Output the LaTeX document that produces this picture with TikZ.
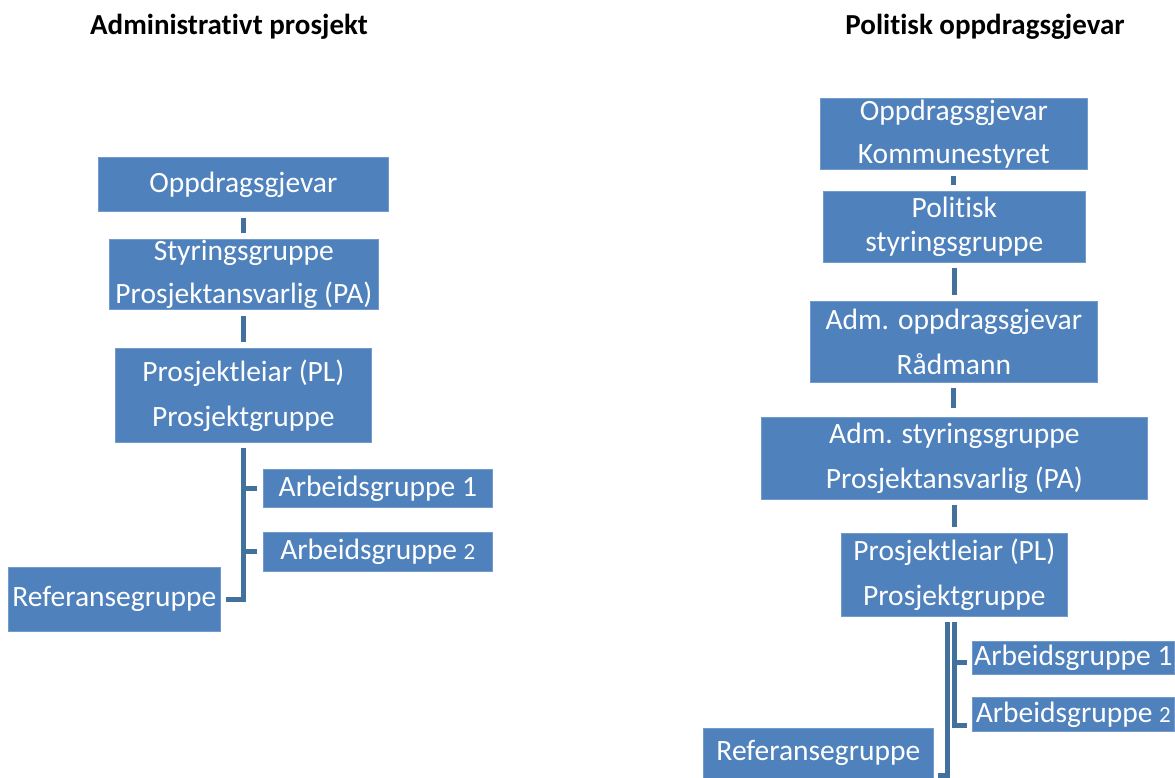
\documentclass[tikz,border=0pt]{standalone}
\usepackage{fontspec}
\setmainfont{Carlito}[Ligatures=NoCommon]
\definecolor{boxblue}{HTML}{4F81BD}
\definecolor{lineblue}{HTML}{41719C}
\begin{document}
\begin{tikzpicture}[x=1pt,y=-1pt,
  box/.style={fill=boxblue, draw=boxblue!80!white, line width=0.7pt, text=white,
    inner sep=0pt, anchor=north west, align=center,
    font=\fontsize{29.5}{43}\selectfont},
  conn/.style={draw=lineblue, line width=5pt},
  ttl/.style={font=\fontsize{29}{32}\selectfont\bfseries, inner sep=0pt}]
\useasboundingbox (0,0) rectangle (1175,778);
\fill[white] (0,0) rectangle (1175,778);

% titles
\node[ttl] (t1) at (229,27) {Administrativt prosjekt};
\node[ttl] (t2) at (985,27) {Politisk oppdragsgjevar};

% left chart
\node[box, minimum width=290pt, minimum height=54pt] (o1) at (98,157) {Oppdragsgjevar};
\node[box, minimum width=269pt, minimum height=70pt] (s1) at (109,239) {Styringsgruppe\\Prosjektansvarlig (PA)};
\node[box, minimum width=256pt, minimum height=94pt] (p1) at (115,348) {Prosjektleiar (PL)\\[2pt]Prosjektgruppe};
\node[box, minimum width=229pt, minimum height=38pt] (ag1) at (263,469) {Arbeidsgruppe 1};
\node[box, minimum width=229pt, minimum height=39pt] (ag2) at (263,532) {Arbeidsgruppe {\fontsize{23}{26}\selectfont 2}};
\node[box, minimum width=212pt, minimum height=64pt] (r1) at (8,567) {Referansegruppe};

\draw[conn, shorten <=6pt, shorten >=6pt] (o1.south) -- (o1.south |- s1.north);
\draw[conn, shorten <=6pt, shorten >=6pt] (s1.south -| o1.south) -- (o1.south |- p1.north);
\draw[conn, shorten <=5pt, shorten >=5pt] (p1.south) |- (r1.east);
\coordinate (lj1) at (243,488);
\coordinate (lj2) at (243,551);
\draw[conn, shorten >=6pt] (lj1) -- (lj1 -| ag1.west);
\draw[conn, shorten >=6pt] (lj2) -- (lj2 -| ag2.west);

% right chart
\node[box, minimum width=267pt, minimum height=71pt] (o2) at (820,98) {Oppdragsgjevar\\Kommunestyret};
\node[box, minimum width=262pt, minimum height=71pt] (ps2) at (823,191) {Politisk\\[-9pt]styringsgruppe};
\node[box, minimum width=287pt, minimum height=81pt] (ao2) at (810,301) {Adm. oppdragsgjevar\\[2pt]Rådmann};
\node[box, minimum width=386pt, minimum height=82pt] (as2) at (761,417) {Adm. styringsgruppe\\[2pt]Prosjektansvarlig (PA)};
\node[box, minimum width=226pt, minimum height=83pt] (p2) at (841,533) {Prosjektleiar (PL)\\[2pt]Prosjektgruppe};
\node[box, minimum width=202pt, minimum height=33pt] (ag12) at (972,641) {Arbeidsgruppe 1};
\node[box, minimum width=202pt, minimum height=34pt] (ag22) at (972,697) {Arbeidsgruppe {\fontsize{23}{26}\selectfont 2}};
\node[box, minimum width=230pt, minimum height=50pt] (r2) at (703,728) {Referansegruppe};

\draw[conn, shorten <=6pt, shorten >=6pt] (o2.south) -- (o2.south |- ps2.north);
\draw[conn, shorten <=5pt, shorten >=6pt] (ps2.south) -- (ps2.south |- ao2.north);
\draw[conn, shorten <=5pt, shorten >=9pt] (ao2.south) -- (ao2.south |- as2.north);
\draw[conn, shorten <=5pt, shorten >=6pt] (as2.south) -- (as2.south |- p2.north);

\coordinate (ra) at (947,616);
\coordinate (rb) at (954,616);
\coordinate (rref) at (938,775);
\coordinate (rag1) at (967,662);
\coordinate (rag2) at (967,725);
\draw[conn, shorten <=6pt] (ra) |- (rref);
\draw[conn, shorten <=6pt] (rb) |- (rag2);
\draw[conn] (rb |- rag1) -- (rag1);
\end{tikzpicture}
\end{document}
